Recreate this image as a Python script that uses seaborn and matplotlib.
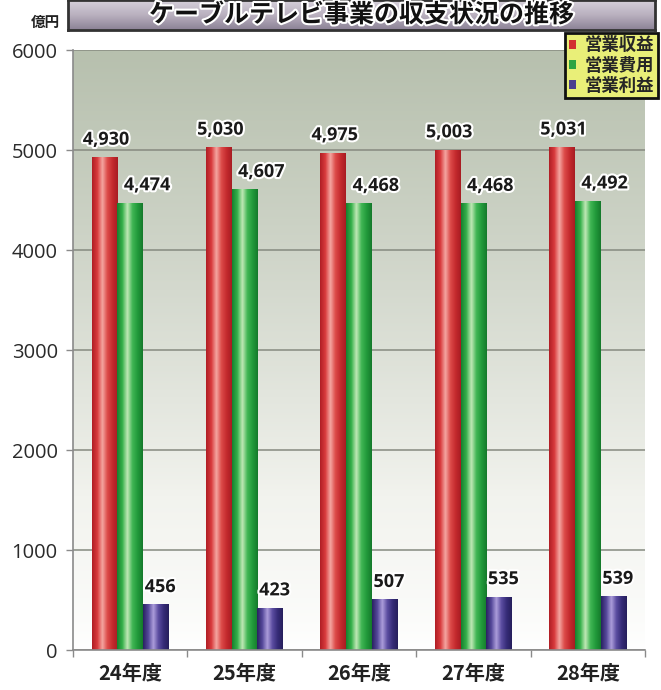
import numpy as np
import pandas as pd
import matplotlib
matplotlib.use("Agg")
import matplotlib.pyplot as plt
import seaborn as sns
from matplotlib.colors import LinearSegmentedColormap
from matplotlib.patches import Rectangle
import matplotlib.patheffects as pe

# ---- data ----
years = ["24年度", "25年度", "26年度", "27年度", "28年度"]
series = ["営業収益", "営業費用", "営業利益"]
revenue = [4930, 5030, 4975, 5003, 5031]
expense = [4474, 4607, 4468, 4468, 4492]
profit = [456, 423, 507, 535, 539]
yticks = [0, 1000, 2000, 3000, 4000, 5000, 6000]
title = "ケーブルテレビ事業の収支状況の推移"
unit = "億円"

sns.set_theme(style="white")
plt.rcParams['font.family'] = ['Noto Sans CJK JP', 'DejaVu Sans']

df = pd.DataFrame({
    "year": years * 3,
    "series": [s for s in series for _ in years],
    "value": revenue + expense + profit,
})

colors = ["#d2302f", "#2ea443", "#4b3f8e"]
bar_cmaps = [
    LinearSegmentedColormap.from_list("r", ["#b01e25", "#d83a3c", "#f4a5a0", "#dc4a48", "#c42a2e", "#a81c22"]),
    LinearSegmentedColormap.from_list("g", ["#17802f", "#35b04a", "#bfe8b5", "#40b654", "#229a3b", "#157a2c"]),
    LinearSegmentedColormap.from_list("b", ["#2a2262", "#55489a", "#ab9cda", "#5a4ca0", "#362c78", "#261f5c"]),
]

fig = plt.figure(figsize=(6.61, 6.90), dpi=100)
fig.patch.set_facecolor("white")
ax = fig.add_axes([73 / 661, 40 / 690, (645 - 73) / 661, 600 / 690])

sns.barplot(data=df, x="year", y="value", hue="series", palette=colors,
            width=0.675, gap=0, ax=ax, legend=False, saturation=1,
            edgecolor="none", linewidth=0)

ax.set_xlim(-0.5, 4.5)
ax.set_ylim(0, 6000)

# background gradient of plot area
grad = np.linspace(0, 1, 256).reshape(-1, 1) ** 0.8
bg_cmap = LinearSegmentedColormap.from_list("bg", ["#ffffff", "#f2f3ee", "#d4d9ce", "#b7c0ae"])
ax.imshow(grad, cmap=bg_cmap, extent=[-0.5, 4.5, 0, 6000], origin="lower",
          aspect="auto", zorder=-2)

# cylinder shading on bars
xg = np.linspace(0, 1, 64).reshape(1, -1)
for ci, cont in enumerate(ax.containers):
    for bar in cont:
        x0, w, h = bar.get_x(), bar.get_width(), bar.get_height()
        im = ax.imshow(xg, cmap=bar_cmaps[ci], extent=[x0, x0 + w, 0, h],
                       aspect="auto", zorder=2.1, origin="lower")
        im.set_clip_path(bar)

ax.set_xlim(-0.5, 4.5)
ax.set_ylim(0, 6000)

# grid & spines
ax.set_axisbelow(True)
ax.yaxis.grid(True, color="#868a80", linewidth=1.1)
ax.xaxis.grid(False)
for s in ["top", "right"]:
    ax.spines[s].set_visible(False)
for s in ["left", "bottom"]:
    ax.spines[s].set_color("#8a8a8a")
    ax.spines[s].set_linewidth(1.2)

ax.set_yticks(yticks)
ax.set_yticklabels([str(v) for v in yticks], fontsize=14.5, color="#2a2a2a",
                   family=["Open Sans", "DejaVu Sans"])
ax.tick_params(axis="y", length=5, width=1, color="#8a8a8a", direction="out", pad=6, left=True)
ax.set_xticks(range(len(years)))
ax.set_xticklabels(years, fontsize=14.5, fontweight="bold", color="#222222")
ax.tick_params(axis="x", length=0, pad=9)
ax.set_xticks(np.arange(-0.5, 5, 1), minor=True)
ax.tick_params(axis="x", which="minor", length=5, width=1, color="#8a8a8a", direction="out", bottom=True)
ax.set_xlabel("")
ax.set_ylabel("")

# value labels
all_vals = [revenue, expense, profit]
dxs = [1, 12, 3]
for ci, cont in enumerate(ax.containers):
    for bar, v in zip(cont, all_vals[ci]):
        ax.annotate(f"{v:,}", (bar.get_x() + bar.get_width() / 2, bar.get_height()),
                    xytext=(dxs[ci], 6), textcoords="offset points",
                    ha="center", va="bottom", fontsize=13, fontweight="bold",
                    color="#1a1a1a", zorder=5,
                    family=["Open Sans", "DejaVu Sans"],
                    path_effects=[pe.withStroke(linewidth=3, foreground="white")])

# legend
handles = [Rectangle((0, 0), 1, 1, facecolor=c, edgecolor="none") for c in colors]
leg = ax.legend(handles, series, loc="upper right",
                bbox_to_anchor=(658 / 661, 1 - 33 / 690), bbox_transform=fig.transFigure,
                frameon=True, fancybox=False, facecolor="#e9ef78", edgecolor="#111111",
                framealpha=1, prop={"size": 12.5, "weight": "bold"},
                handlelength=0.45, handleheight=0.45, handletextpad=0.5,
                borderpad=0.2, labelspacing=0.12, borderaxespad=0)
leg.get_frame().set_linewidth(2)
leg.set_zorder(10)

# unit label
fig.text(45 / 661, 1 - 22 / 690, unit, fontsize=10.5, fontweight="bold",
         ha="center", va="center", color="#222222")

# title box
tax = fig.add_axes([68 / 661, 1 - 30 / 690, 587 / 661, 30 / 690])
tgrad = np.linspace(0, 1, 64).reshape(-1, 1)
tcmap = LinearSegmentedColormap.from_list("t", ["#8c8296", "#b9b0bf", "#d6d0da"])
tax.imshow(tgrad, cmap=tcmap, extent=[0, 1, 0, 1], aspect="auto", origin="lower")
tax.set_xlim(0, 1)
tax.set_ylim(0, 1)
tax.set_xticks([])
tax.set_yticks([])
for s in tax.spines.values():
    s.set_color("#333333")
    s.set_linewidth(2)
tax.text(0.5, 0.5, title, ha="center", va="center", fontsize=18, fontweight="bold",
         color="#111111", path_effects=[pe.withStroke(linewidth=3, foreground="white")])

fig.savefig("out.png", dpi=100)
